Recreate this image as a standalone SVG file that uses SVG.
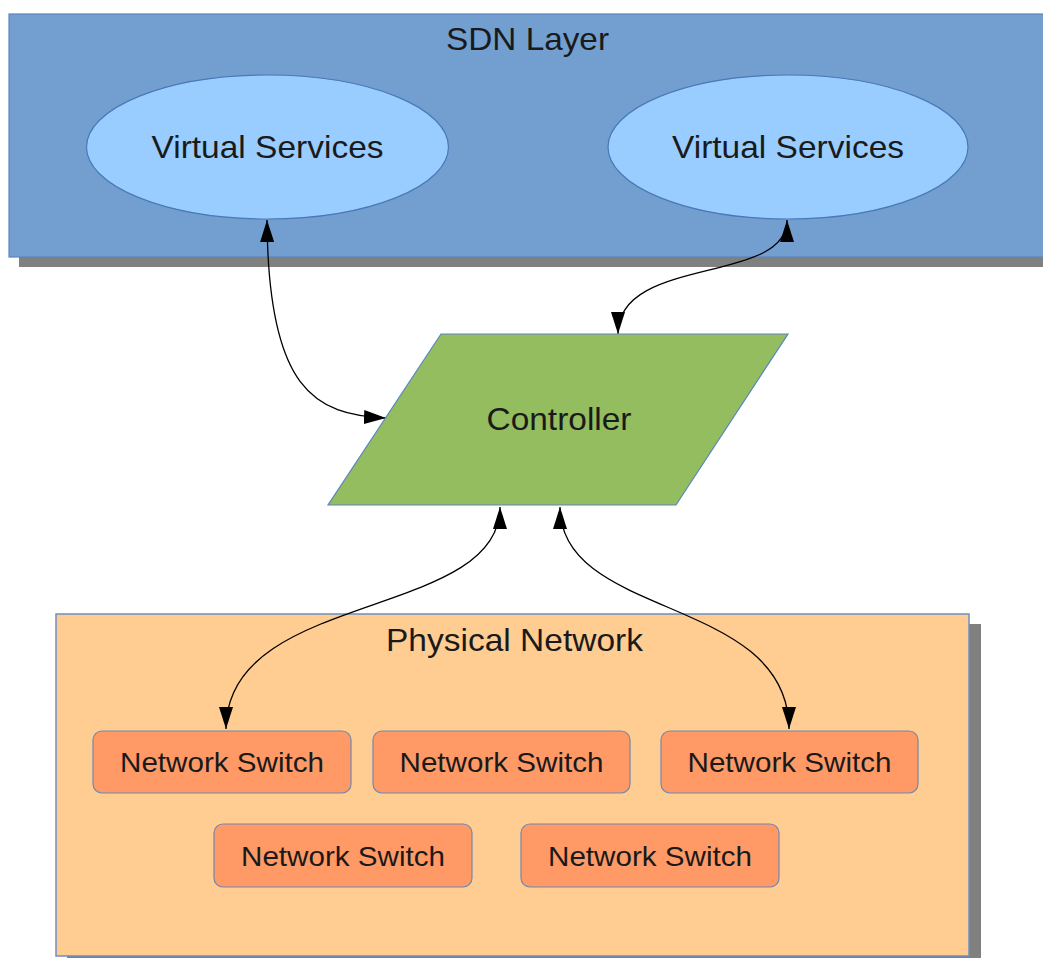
<svg xmlns="http://www.w3.org/2000/svg" width="1043" height="958" viewBox="0 0 1043 958">
<style>
  text { font-family: "Liberation Sans", Arial, sans-serif; fill: #1a1a1a; text-anchor: middle; }
  .big { font-size: 32px; }
  .sw { font-size: 28px; }
  .shadow { fill: #808080; }
  .sdn { fill: #729fcf; stroke: #5a86bf; stroke-width: 1.2; }
  .vs { fill: #99ccff; stroke: #4a78b8; stroke-width: 1.2; }
  .ctl { fill: #93bd5e; stroke: #5a86bf; stroke-width: 1.2; }
  .phys { fill: #ffcc91; stroke: #6f8fc0; stroke-width: 1.5; }
  .switch { fill: #ff9966; stroke: #7088b0; stroke-width: 1.2; }
  .conn { fill: none; stroke: #000; stroke-width: 1.3; marker-start: url(#arr); marker-end: url(#arr); }
</style>
<defs>
  <marker id="arr" viewBox="0 0 22 14" refX="22" refY="7" markerWidth="22" markerHeight="14" markerUnits="userSpaceOnUse" orient="auto-start-reverse">
    <path d="M0,0 L22,7 L0,14 z" fill="#000"/>
  </marker>
</defs>
<rect width="1043" height="958" fill="#fff"/>

<g id="sdn-layer">
  <rect class="shadow" x="19" y="24" width="1040" height="243"/>
  <rect class="sdn" x="9" y="14" width="1040" height="243"/>
  <text class="big" x="527.5" y="50" textLength="163" lengthAdjust="spacingAndGlyphs">SDN Layer</text>
</g>

<g id="physical-network">
  <rect class="shadow" x="67" y="624" width="914" height="342"/>
  <rect class="phys" x="56" y="614" width="913" height="342"/>
  <text class="big" x="514.5" y="651" textLength="257" lengthAdjust="spacingAndGlyphs">Physical Network</text>
</g>

<g id="connectors">
  <path class="conn" d="M267,220 C268,390 315,415 386,418"/>
  <path class="conn" d="M787,220 C787,285 618,255 618,334"/>
  <path class="conn" d="M500,507 C500,620 226,590 226,729"/>
  <path class="conn" d="M560,507 C560,620 789,595 789,729"/>
</g>

<g id="virtual-services-1">
  <ellipse class="vs" cx="267.5" cy="147" rx="181" ry="72"/>
  <text class="big" x="267.5" y="158" textLength="232" lengthAdjust="spacingAndGlyphs">Virtual Services</text>
</g>

<g id="virtual-services-2">
  <ellipse class="vs" cx="788" cy="147" rx="180" ry="72"/>
  <text class="big" x="788" y="158" textLength="232" lengthAdjust="spacingAndGlyphs">Virtual Services</text>
</g>

<g id="controller">
  <polygon class="ctl" points="441,334 788,334 676,505 328,505"/>
  <text class="big" x="559" y="430" textLength="145" lengthAdjust="spacingAndGlyphs">Controller</text>
</g>

<g id="switch-1">
  <rect class="switch" x="93" y="731" width="258" height="62" rx="9"/>
  <text class="sw" x="222" y="772" textLength="204" lengthAdjust="spacingAndGlyphs">Network Switch</text>
</g>
<g id="switch-2">
  <rect class="switch" x="373" y="731" width="257" height="62" rx="9"/>
  <text class="sw" x="501.5" y="772" textLength="204" lengthAdjust="spacingAndGlyphs">Network Switch</text>
</g>
<g id="switch-3">
  <rect class="switch" x="661" y="731" width="257" height="62" rx="9"/>
  <text class="sw" x="789.5" y="772" textLength="204" lengthAdjust="spacingAndGlyphs">Network Switch</text>
</g>
<g id="switch-4">
  <rect class="switch" x="214" y="824" width="258" height="63" rx="9"/>
  <text class="sw" x="343" y="866" textLength="204" lengthAdjust="spacingAndGlyphs">Network Switch</text>
</g>
<g id="switch-5">
  <rect class="switch" x="521" y="824" width="258" height="63" rx="9"/>
  <text class="sw" x="650" y="866" textLength="204" lengthAdjust="spacingAndGlyphs">Network Switch</text>
</g>
</svg>
